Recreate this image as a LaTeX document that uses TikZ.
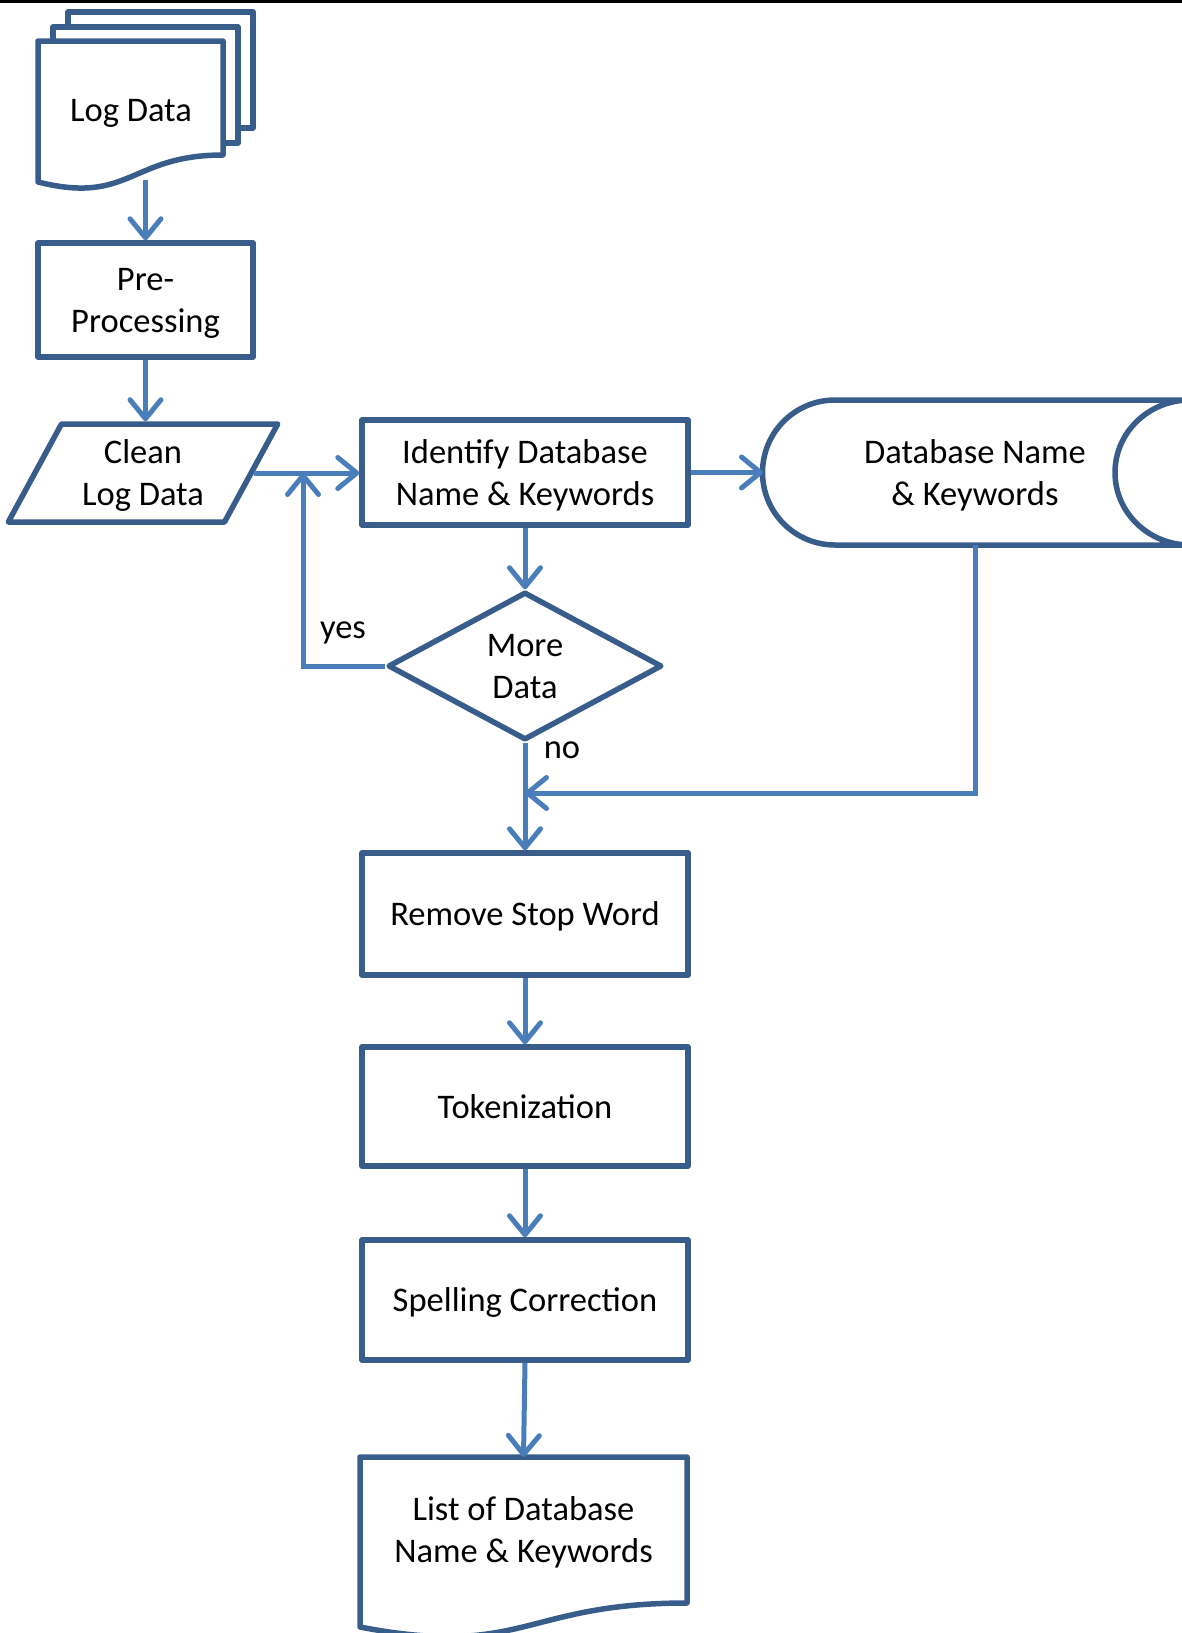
\documentclass[tikz,border=0pt]{standalone}
\usepackage{fontspec}
\setmainfont{Carlito}
\usepackage{tikz}
\usetikzlibrary{shapes, positioning, calc, arrows.meta}
\usepackage{xcolor}
\definecolor{boxblue}{RGB}{56,93,138}
\definecolor{lineblue}{RGB}{74,126,187}
\newcommand{\flowfont}{\fontsize{34.5}{42}\selectfont}

\begin{document}
\begin{tikzpicture}[x=1pt, y=-1pt,
    every node/.style={font=\flowfont},
    box/.style={draw=boxblue, line width=5.5pt, line join=round, align=center, text depth=0pt},
    doctext/.style={align=center, inner sep=0pt, outer sep=0pt, text depth=0pt},
    outline/.style={draw=boxblue, line width=5.5pt, line join=round},
    flow/.style={draw=lineblue, line width=5pt, -{Straight Barb[length=19pt, width=31pt, round]}}]
    \useasboundingbox (0,0) rectangle (1182,1633);
    \draw[black, line width=2.6pt] (0,1.3) -- (1182,1.3);

    % Nodes
    \node[doctext, minimum width=185, minimum height=140] (logdata) at (131,110) {Log Data};
    \node[box, minimum width=215, minimum height=114] (prep) at (145.5,300) {Pre-\\Processing};
    \node[box, trapezium, trapezium left angle=60, trapezium right angle=120,
          trapezium stretches=true, minimum width=270, minimum height=98] (clean) at (143,473) {Clean\\Log Data};
    \node[box, minimum width=326, minimum height=105] (identify) at (525,472.5) {Identify Database\\Name \& Keywords};
    \node[doctext, minimum width=424, minimum height=145] (store) at (975,472.5) {Database Name\\\& Keywords};
    \node[box, diamond, minimum width=274, minimum height=148, inner sep=0pt] (more) at (525,666) {More\\Data};
    \node[box, minimum width=326, minimum height=122] (stopword) at (525,914) {Remove Stop Word};
    \node[box, minimum width=326, minimum height=119] (token) at (525,1106.5) {Tokenization};
    \node[box, minimum width=326, minimum height=120] (spell) at (525,1300) {Spelling Correction};
    \node[doctext, minimum width=327, minimum height=146] (list) at (523.5,1530) {List of Database\\Name \& Keywords};

    % Document and storage outlines
    \draw[outline] (68,27) -- (68,12) -- (253,12) -- (253,128) -- (238,128);
    \draw[outline] (53,41) -- (53,27) -- (238,27) -- (238,143) -- (223,143);
    \draw[outline] (38,41) -- (223,41) -- (223,155) .. controls (130,155) and (130,205) .. (38,182) -- cycle;
    \draw[outline] (list.north west) -- (list.north east) -- (list.south east)
        .. controls (list.south) and ([yshift=-55.5pt]list.south) .. ([yshift=-24pt]list.south west) -- cycle;
    \draw[outline] (835,400) -- (1190,400) arc[start angle=270, end angle=90, x radius=75, y radius=72.5]
        -- (835,545) arc[start angle=90, end angle=270, radius=72.5] -- cycle;

    % Connectors
    \coordinate (join) at (303,473);
    \coordinate (merge) at (525,793);
    \draw[flow] (logdata.south -| prep.north) -- (prep.north);
    \draw[flow] (prep.south) -- (prep.south |- clean.north);
    \draw[flow] (clean.east) -- (clean.east -| identify.west);
    \draw[flow] (identify.east) -- (store.west);
    \draw[flow] (identify.south) -- (more.north);
    \draw[flow] (more.west) -| (join);
    \draw[flow] (more.south) -- (stopword.north);
    \draw[flow] (store.south) |- (merge);
    \draw[flow] (stopword.south) -- (token.north);
    \draw[flow] (token.south) -- (spell.north);
    \draw[flow] (spell.south) -- (list.north);

    % Labels
    \node[anchor=base] (yes) at (343,638) {yes};
    \node[anchor=base] (no) at (562,758) {no};
\end{tikzpicture}
\end{document}
